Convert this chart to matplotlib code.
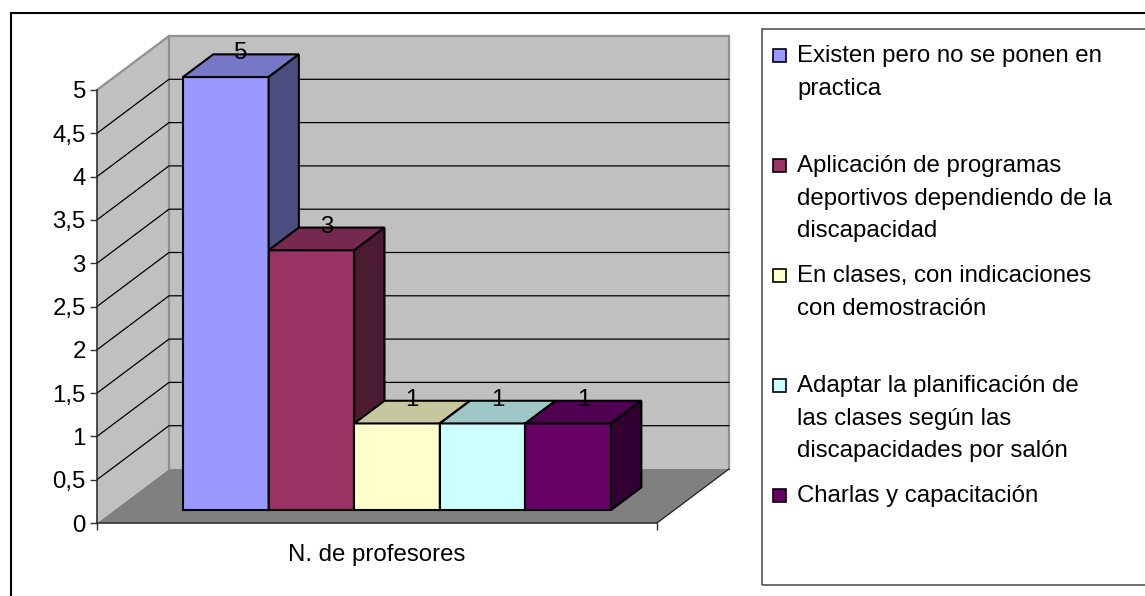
import matplotlib
matplotlib.use('Agg')
import matplotlib.pyplot as plt
from matplotlib.patches import Polygon, Rectangle
from matplotlib.colors import to_rgb
from matplotlib.ticker import FuncFormatter

plt.rcParams['font.family'] = ['Liberation Sans', 'DejaVu Sans']

# data
legend_lines = [
    ['Existen pero no se ponen en', 'practica'],
    ['Aplicación de programas', 'deportivos dependiendo de la', 'discapacidad'],
    ['En clases, con indicaciones', 'con demostración'],
    ['Adaptar la planificación de', 'las clases según las', 'discapacidades por salón'],
    ['Charlas y capacitación'],
]
values = [5, 3, 1, 1, 1]
bar_colors = ['#9999FF', '#993366', '#FFFFCC', '#CCFFFF', '#660066']
y_ticks = [0, 0.5, 1, 1.5, 2, 2.5, 3, 3.5, 4, 4.5, 5]
x_label = 'N. de profesores'

W, H = 1145, 596
X0, X1, Y0, PXU = 97, 657, 523, 86.6   # front axis in pixels
DX = 72 / (X1 - X0)                    # depth offset in data units
DY = 54 / PXU
D0, D1 = 0.24, 0.66                    # bar front / back depth
GAP = 0.1227
BW = 0.1529
FS = 17.3


def proj(x, v, d):
    return (x + d * DX, v + d * DY)


def shade(c, f):
    r, g, b = to_rgb(c)
    return (r * f, g * f, b * f)


def fx(px):
    return px / W


def fy(py):
    return 1 - py / H


fig = plt.figure(figsize=(W / 100, H / 100), dpi=100)
ax = fig.add_axes([0, 0, 1, 1])
ax.set_xlim(-X0 / (X1 - X0), (W - X0) / (X1 - X0))
ax.set_ylim((Y0 - H) / PXU, Y0 / PXU)
ax.patch.set_visible(False)

vmax = y_ticks[-1]
# floor, side wall, back wall
ax.add_patch(Polygon([proj(0, 0, 0), proj(1, 0, 0), proj(1, 0, 1), proj(0, 0, 1)],
                     closed=True, fc='#808080', ec='none', zorder=1))
ax.add_patch(Polygon([proj(0, 0, 0), proj(0, vmax, 0), proj(0, vmax, 1), proj(0, 0, 1)],
                     closed=True, fc='#C0C0C0', ec='none', zorder=1))
ax.add_patch(Polygon([proj(0, 0, 1), proj(1, 0, 1), proj(1, vmax, 1), proj(0, vmax, 1)],
                     closed=True, fc='#C0C0C0', ec='none', zorder=1))
# wall edges
ex, ey = zip(proj(0, vmax, 0), proj(0, vmax, 1), proj(1, vmax, 1), proj(1, 0, 1))
ax.plot(ex, ey, color='#909090', lw=1.6, zorder=1.5, solid_joinstyle='miter')
ex, ey = zip(proj(0, 0, 1), proj(0, vmax, 1))
ax.plot(ex, ey, color='#909090', lw=1.6, zorder=1.5)
ex, ey = zip(proj(1, 0, 0), proj(1, 0, 1))
ax.plot(ex, ey, color='#202020', lw=0.9, zorder=1.5)

# gridlines
for v in y_ticks[1:-1]:
    gx, gy = zip(proj(0, v, 0), proj(0, v, 1), proj(1, v, 1))
    ax.plot(gx, gy, color='black', lw=0.9, zorder=1.6)

# bars
for i, (v, c) in enumerate(zip(values, bar_colors)):
    x0 = GAP + i * BW
    x1 = x0 + BW
    front = [proj(x0, 0, D0), proj(x1, 0, D0), proj(x1, v, D0), proj(x0, v, D0)]
    top = [proj(x0, v, D0), proj(x1, v, D0), proj(x1, v, D1), proj(x0, v, D1)]
    side = [proj(x1, 0, D0), proj(x1, 0, D1), proj(x1, v, D1), proj(x1, v, D0)]
    z = 3 + i * 0.1
    for pts, col in [(front, c), (top, shade(c, 0.78)), (side, shade(c, 0.5))]:
        ax.add_patch(Polygon(pts, closed=True, fc=col, ec='black', lw=1.5,
                             joinstyle='miter', zorder=z))
    ax.annotate(f'{v:g}', xy=proj((x0 + x1) / 2, v, (D0 + D1) / 2), xytext=(0, 1),
                textcoords='offset points', ha='center', va='bottom',
                fontsize=FS, zorder=4)

# axes
for s in ['top', 'right']:
    ax.spines[s].set_visible(False)
ax.spines['left'].set_position(('data', 0))
ax.spines['left'].set_bounds(0, vmax)
ax.spines['bottom'].set_position(('data', 0))
ax.spines['bottom'].set_bounds(0, 1)
for s in ['left', 'bottom']:
    ax.spines[s].set_linewidth(1.2)
    ax.spines[s].set_color('#303030')
ax.set_yticks(y_ticks)
ax.yaxis.set_major_formatter(FuncFormatter(lambda v, _: f'{v:g}'.replace('.', ',')))
ax.set_xticks([0, 1])
ax.set_xticklabels([])
ax.tick_params(direction='out', length=5, width=1, pad=3, labelsize=FS, color='#303030')
ax.text(0.5, (Y0 - 561) / PXU, x_label, ha='center', va='baseline', fontsize=FS)

# outer frame and legend box
fig.add_artist(Rectangle((fx(11), -0.05), 1.1, fy(13) + 0.05, fill=False,
                         ec='black', lw=1.5, transform=fig.transFigure))
fig.add_artist(Rectangle((fx(762), fy(585)), fx(1150 - 762), (585 - 29) / H, fill=False,
                         ec='#555555', lw=1.2, transform=fig.transFigure))

for i, (lines, c) in enumerate(zip(legend_lines, bar_colors)):
    top_y = 53 + 110 * i
    fig.add_artist(Rectangle((fx(773), fy(top_y + 9)), 13 / W, 13 / H, fc=c, ec='black',
                             lw=1.2, transform=fig.transFigure))
    for j, line in enumerate(lines):
        fig.text(fx(797), fy(top_y + 32.7 * j + 9), line, ha='left', va='baseline',
                 fontsize=FS)

fig.savefig('out.png', dpi=100)
